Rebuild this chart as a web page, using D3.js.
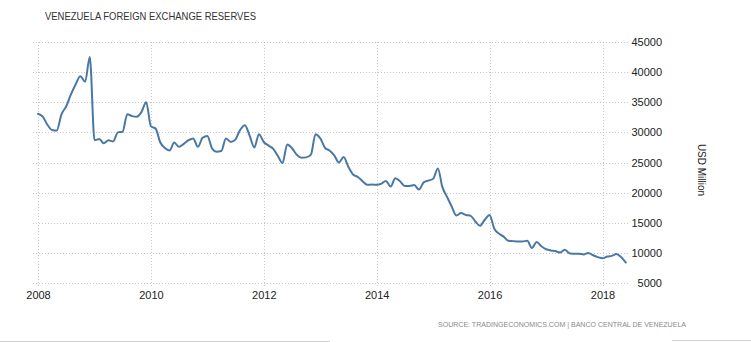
<!DOCTYPE html>
<html>
<head>
<meta charset="utf-8">
<script src="https://cdn.jsdelivr.net/npm/d3@7"></script>
<style>
  html, body { margin: 0; padding: 0; background: #fff; }
  svg { display: block; }
</style>
</head>
<body>
<svg id="chart" width="751" height="342"></svg>
<script>
// ---- Data (monthly, Jan 2008 – Jun 2018, USD million) ----
const startYear = 2008;
const startMonth = 0; // January
const reserves = [
  // 2008
  33100, 32600, 31300, 30400, 30300, 33000, 34300, 36300, 38000, 39300, 38400, 42500,
  // 2009
  28700, 28900, 28200, 28700, 28500, 30000, 30100, 33000, 32700, 32600, 33400, 35000,
  // 2010
  31000, 30600, 28400, 27400, 27000, 28300, 27600, 28100, 28700, 29000, 27600, 29100,
  // 2011
  29400, 27300, 26800, 26900, 29000, 28400, 28800, 30400, 31200, 29500, 27500, 29700,
  // 2012
  28400, 27800, 27300, 26100, 24900, 28000, 27400, 26300, 25800, 25850, 26300, 29700,
  // 2013
  29000, 27400, 27000, 26200, 25000, 25900, 24300, 23000, 22600, 21900, 21300, 21350,
  // 2014
  21300, 21500, 21950, 21000, 22400, 21900, 21100, 21100, 21250, 20500, 21700, 22000,
  // 2015
  22300, 24000, 21000, 19300, 17700, 16200, 16600, 16300, 16150, 15200, 14500, 15500,
  // 2016
  16300, 14000, 13200, 12700, 12000, 11950, 11900, 11900, 12000, 10800, 11800, 11100,
  // 2017
  10600, 10400, 10300, 10050, 10500, 9950, 9850, 9850, 9750, 10000, 9600, 9300,
  // 2018
  9100, 9400, 9500, 9800, 9300, 8400
];
const yTicks = [5000, 10000, 15000, 20000, 25000, 30000, 35000, 40000, 45000];
const xTickYears = [2008, 2010, 2012, 2014, 2016, 2018];
const titleText = "VENEZUELA FOREIGN EXCHANGE RESERVES";
const unitText = "USD Million";
const sourceText = "SOURCE: TRADINGECONOMICS.COM  |  BANCO CENTRAL DE VENEZUELA";

const data = reserves.map((v, i) => ({ date: new Date(startYear, startMonth + i, 1), value: v }));

// ---- Layout ----
const svg = d3.select("#chart");
const gridLeft = 33, gridRight = 630;
const x = d3.scaleTime()
  .domain([new Date(2008, 0, 1), new Date(2018, 0, 1)])
  .range([38, 602.5]);
const y = d3.scaleLinear()
  .domain([5000, 45000])
  .range([283, 42]);

const font = "'Liberation Sans', Arial, sans-serif";

// Title
svg.append("text")
  .attr("x", 45).attr("y", 20)
  .attr("font-family", font).attr("font-size", 11)
  .attr("fill", "#333")
  .attr("textLength", 211).attr("lengthAdjust", "spacingAndGlyphs")
  .text(titleText);

// Horizontal gridlines
const grid = svg.append("g");
grid.selectAll("line.h").data(yTicks).join("line")
  .attr("class", "h")
  .attr("x1", gridLeft).attr("x2", gridRight)
  .attr("y1", d => Math.round(y(d)) + 0.5).attr("y2", d => Math.round(y(d)) + 0.5)
  .attr("stroke", "#c8c8c8").attr("stroke-width", 1)
  .attr("stroke-dasharray", "1,2");

// Vertical gridlines
grid.selectAll("line.v").data(xTickYears).join("line")
  .attr("class", "v")
  .attr("x1", d => Math.round(x(new Date(d, 0, 1))) + 0.5)
  .attr("x2", d => Math.round(x(new Date(d, 0, 1))) + 0.5)
  .attr("y1", 42).attr("y2", 288)
  .attr("stroke", "#c8c8c8").attr("stroke-width", 1)
  .attr("stroke-dasharray", "1,2");

// Y axis (right side labels)
const yAxis = d3.axisRight(y).tickValues(yTicks).tickSize(0).tickPadding(0)
  .tickFormat(d3.format("d"));
const yg = svg.append("g").attr("transform", `translate(662,0)`).call(yAxis);
yg.select(".domain").remove();
yg.selectAll("text")
  .attr("text-anchor", "end")
  .attr("font-family", font).attr("font-size", 11)
  .attr("fill", "#222");

// X axis labels
const xAxis = d3.axisBottom(x).tickValues(xTickYears.map(yr => new Date(yr, 0, 1)))
  .tickSize(0).tickPadding(0).tickFormat(d3.timeFormat("%Y"));
const xg = svg.append("g").attr("transform", `translate(0,291)`).call(xAxis);
xg.select(".domain").remove();
xg.selectAll("text")
  .attr("font-family", font).attr("font-size", 11)
  .attr("fill", "#222");

// Unit label (rotated)
svg.append("text")
  .attr("transform", "translate(698,170) rotate(90)")
  .attr("text-anchor", "middle")
  .attr("font-family", font).attr("font-size", 10)
  .attr("fill", "#222")
  .text(unitText);

// Line
const line = d3.line()
  .x(d => x(d.date))
  .y(d => y(d.value))
  .curve(d3.curveMonotoneX);
svg.append("path")
  .datum(data)
  .attr("d", line)
  .attr("fill", "none")
  .attr("stroke", "#4a78a6")
  .attr("stroke-width", 2)
  .attr("stroke-linejoin", "round")
  .attr("stroke-linecap", "round");

// Source
svg.append("text")
  .attr("x", 438).attr("y", 327)
  .attr("font-family", font).attr("font-size", 7.5)
  .attr("fill", "#8a8a8a")
  .attr("textLength", 248).attr("lengthAdjust", "spacingAndGlyphs")
  .text(sourceText);

// Bottom frame fragments
svg.append("line").attr("x1", 0).attr("x2", 330).attr("y1", 341.5).attr("y2", 341.5)
  .attr("stroke", "#d0d0d0");
svg.append("line").attr("x1", 672).attr("x2", 751).attr("y1", 340.5).attr("y2", 340.5)
  .attr("stroke", "#d0d0d0");
</script>
</body>
</html>
